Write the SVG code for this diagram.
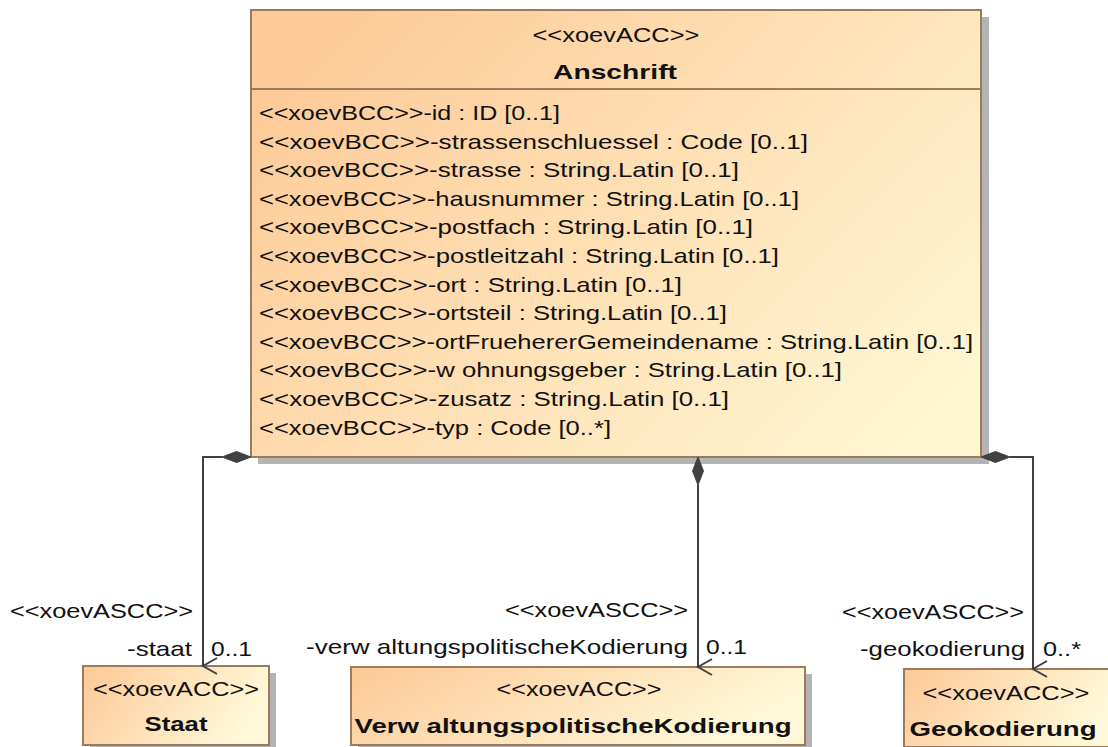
<svg xmlns="http://www.w3.org/2000/svg" width="1108" height="747" viewBox="0 0 1108 747">
  <style>
    .box { stroke: #9C7A5A; stroke-width: 2; }
    .shadow { fill: #B4B4B4; }
    .t { font-family: "Liberation Sans", Arial, sans-serif; font-size: 21px; fill: #111; }
    .b { font-weight: bold; }
    .mid { text-anchor: middle; }
    .conn { stroke: #404040; stroke-width: 2; fill: none; }
    .dia { fill: #404040; stroke: #404040; stroke-width: 1; }
  </style>
  <defs>
    <linearGradient id="fillMain" x1="0" y1="0.2" x2="1" y2="0.8">
      <stop offset="0" stop-color="#FDCA98"/>
      <stop offset="1" stop-color="#FFF6D2"/>
    </linearGradient>
    <linearGradient id="fillSmall" x1="0" y1="0" x2="1" y2="0.3">
      <stop offset="0" stop-color="#FDC896"/>
      <stop offset="1" stop-color="#FFF8D8"/>
    </linearGradient>
    <marker id="openArrow" viewBox="0 0 20 20" refX="10" refY="18" markerWidth="20" markerHeight="20" markerUnits="userSpaceOnUse" orient="auto-start-reverse">
      <path d="M2,4 L10,18 L18,4" fill="none" stroke="#404040" stroke-width="2"/>
    </marker>
  </defs>

  <!-- Anschrift class -->
  <g id="anschrift">
    <rect class="shadow" x="258" y="17" width="731" height="447"/>
    <rect class="box" x="251" y="10" width="730" height="447" fill="url(#fillMain)"/>
    <line class="box" x1="251" y1="89" x2="981" y2="89"/>
    <text class="t mid" x="616" y="42" textLength="167" lengthAdjust="spacingAndGlyphs">&lt;&lt;xoevACC&gt;&gt;</text>
    <text class="t b mid" x="615" y="79" textLength="124" lengthAdjust="spacingAndGlyphs">Anschrift</text>
    <text class="t" x="259" y="120" textLength="301" lengthAdjust="spacingAndGlyphs">&lt;&lt;xoevBCC&gt;&gt;-id : ID [0..1]</text>
    <text class="t" x="259" y="148.6" textLength="549" lengthAdjust="spacingAndGlyphs">&lt;&lt;xoevBCC&gt;&gt;-strassenschluessel : Code [0..1]</text>
    <text class="t" x="259" y="177.2" textLength="480" lengthAdjust="spacingAndGlyphs">&lt;&lt;xoevBCC&gt;&gt;-strasse : String.Latin [0..1]</text>
    <text class="t" x="259" y="205.8" textLength="540" lengthAdjust="spacingAndGlyphs">&lt;&lt;xoevBCC&gt;&gt;-hausnummer : String.Latin [0..1]</text>
    <text class="t" x="259" y="234.4" textLength="494" lengthAdjust="spacingAndGlyphs">&lt;&lt;xoevBCC&gt;&gt;-postfach : String.Latin [0..1]</text>
    <text class="t" x="259" y="263" textLength="520" lengthAdjust="spacingAndGlyphs">&lt;&lt;xoevBCC&gt;&gt;-postleitzahl : String.Latin [0..1]</text>
    <text class="t" x="259" y="291.6" textLength="423" lengthAdjust="spacingAndGlyphs">&lt;&lt;xoevBCC&gt;&gt;-ort : String.Latin [0..1]</text>
    <text class="t" x="259" y="320.2" textLength="468" lengthAdjust="spacingAndGlyphs">&lt;&lt;xoevBCC&gt;&gt;-ortsteil : String.Latin [0..1]</text>
    <text class="t" x="259" y="348.8" textLength="714" lengthAdjust="spacingAndGlyphs">&lt;&lt;xoevBCC&gt;&gt;-ortFruehererGemeindename : String.Latin [0..1]</text>
    <text class="t" x="259" y="377.4" textLength="583" lengthAdjust="spacingAndGlyphs">&lt;&lt;xoevBCC&gt;&gt;-w ohnungsgeber : String.Latin [0..1]</text>
    <text class="t" x="259" y="406" textLength="470" lengthAdjust="spacingAndGlyphs">&lt;&lt;xoevBCC&gt;&gt;-zusatz : String.Latin [0..1]</text>
    <text class="t" x="259" y="434.6" textLength="352" lengthAdjust="spacingAndGlyphs">&lt;&lt;xoevBCC&gt;&gt;-typ : Code [0..*]</text>
  </g>

  <!-- Staat class -->
  <g id="staat">
    <rect class="shadow" x="90" y="673" width="186" height="79"/>
    <rect class="box" x="83" y="666" width="186" height="79" fill="url(#fillSmall)"/>
    <text class="t mid" x="176" y="696" textLength="166" lengthAdjust="spacingAndGlyphs">&lt;&lt;xoevACC&gt;&gt;</text>
    <text class="t b mid" x="176" y="731" textLength="63" lengthAdjust="spacingAndGlyphs">Staat</text>
  </g>

  <!-- VerwaltungspolitischeKodierung class -->
  <g id="verwaltungspolitischeKodierung">
    <rect class="shadow" x="358" y="674" width="454" height="78"/>
    <rect class="box" x="351" y="667" width="454" height="78" fill="url(#fillSmall)"/>
    <text class="t mid" x="579" y="696" textLength="165" lengthAdjust="spacingAndGlyphs">&lt;&lt;xoevACC&gt;&gt;</text>
    <text class="t b mid" x="573" y="733" textLength="437" lengthAdjust="spacingAndGlyphs">Verw altungspolitischeKodierung</text>
  </g>

  <!-- Geokodierung class -->
  <g id="geokodierung">
    <rect class="shadow" x="911" y="676" width="210" height="78"/>
    <rect class="box" x="904" y="669" width="210" height="78" fill="url(#fillSmall)"/>
    <text class="t mid" x="1006" y="700" textLength="167" lengthAdjust="spacingAndGlyphs">&lt;&lt;xoevACC&gt;&gt;</text>
    <text class="t b mid" x="1003" y="736" textLength="187" lengthAdjust="spacingAndGlyphs">Geokodierung</text>
  </g>

  <!-- composition associations -->
  <g id="connectors">
    <path class="conn" d="M222,457 H203 V666" marker-end="url(#openArrow)"/>
    <path class="dia" d="M251,457 L236.5,451.5 L222,457 L236.5,462.5 Z"/>
    <path class="conn" d="M698,485 V667" marker-end="url(#openArrow)"/>
    <path class="dia" d="M698,457 L703.5,471 L698,485 L692.5,471 Z"/>
    <path class="conn" d="M1010,457 H1033 V669" marker-end="url(#openArrow)"/>
    <path class="dia" d="M981,457 L995.5,451.5 L1010,457 L995.5,462.5 Z"/>

    <text class="t" x="10" y="618" textLength="183" lengthAdjust="spacingAndGlyphs">&lt;&lt;xoevASCC&gt;&gt;</text>
    <text class="t" x="127" y="656" textLength="65" lengthAdjust="spacingAndGlyphs">-staat</text>
    <text class="t" x="211" y="656" textLength="41" lengthAdjust="spacingAndGlyphs">0..1</text>

    <text class="t" x="505" y="617" textLength="183" lengthAdjust="spacingAndGlyphs">&lt;&lt;xoevASCC&gt;&gt;</text>
    <text class="t" x="306" y="654" textLength="382" lengthAdjust="spacingAndGlyphs">-verw altungspolitischeKodierung</text>
    <text class="t" x="706" y="654" textLength="41" lengthAdjust="spacingAndGlyphs">0..1</text>

    <text class="t" x="842" y="619" textLength="182" lengthAdjust="spacingAndGlyphs">&lt;&lt;xoevASCC&gt;&gt;</text>
    <text class="t" x="860" y="656" textLength="165" lengthAdjust="spacingAndGlyphs">-geokodierung</text>
    <text class="t" x="1043" y="656" textLength="38" lengthAdjust="spacingAndGlyphs">0..*</text>
  </g>
</svg>
